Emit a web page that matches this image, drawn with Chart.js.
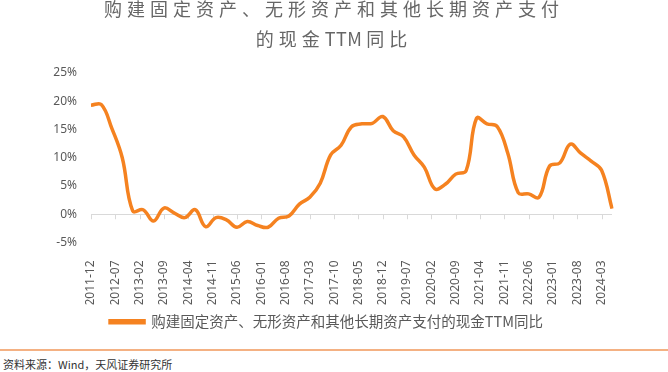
<!DOCTYPE html>
<html lang="zh-CN">
<head>
<meta charset="UTF-8">
<title>购建固定资产、无形资产和其他长期资产支付的现金TTM同比</title>
<script src="https://cdn.jsdelivr.net/npm/chart.js"></script>
<style>
  body { margin: 0; background: #fff; font-family: 'Noto Sans CJK SC', sans-serif; }
  #wrap { position: relative; width: 668px; height: 372px; overflow: hidden; }
  #title {
    position: absolute; top: -7px; left: 0; width: 668px;
    text-align: center; font-size: 18px; line-height: 30px;
    letter-spacing: 5px; color: #666;
  }
  #title .abbr { letter-spacing: 0.5px; margin-right: 4px; }
  #chartBox { position: absolute; left: 0; top: 0; width: 668px; height: 345px; }
  #rule { position: absolute; left: 0; top: 349px; width: 668px; height: 2px; background: #f4b183; }
  #source { position: absolute; left: 3px; top: 356px; font-size: 11px; line-height: 16px; color: #333; }
</style>
</head>
<body>
<div id="wrap">
  <div id="chartBox"><canvas id="chart"></canvas></div>
  <div id="title">购建固定资产、无形资产和其他长期资产支付<br>的现金<span class="abbr">TTM</span>同比</div>
  <div id="rule"></div>
  <div id="source">资料来源：Wind，天风证券研究所</div>
</div>
<script>
  // monthly category axis, 2011-12 .. 2024-06
  const startYear = 2011, startMonth = 12, monthCount = 151;
  const labelStep = 7;
  const seriesName = '购建固定资产、无形资产和其他长期资产支付的现金TTM同比';
  // values (%) at quarter ends: 2011-12, 2012-03, ... 2024-06
  const quarterValues = [
    19.3, 19.4, 15.2, 10.0, 0.6, 0.8, -1.2, 1.1, 0.2, -0.6,
    0.8, -2.2, -0.6, -1.0, -2.3, -1.3, -2.0, -2.3, -0.7, -0.3,
    1.8, 3.0, 5.5, 10.5, 12.2, 15.5, 16.0, 16.1, 17.3, 14.8,
    13.7, 10.5, 8.3, 4.5, 5.3, 7.1, 7.7, 17.0, 16.0, 15.5,
    10.8, 3.8, 3.6, 3.0, 8.5, 9.1, 12.4, 10.8, 9.4, 7.8,
    1.0
  ];
  const yTicks = { min: -5, max: 25, step: 5 };

  const months = [];
  for (let i = 0; i < monthCount; i++) {
    const m = startMonth - 1 + i;
    const y = startYear + Math.floor(m / 12);
    months.push(y + '-' + String(m % 12 + 1).padStart(2, '0'));
  }
  const monthly = months.map((_, i) => i % 3 === 0 ? quarterValues[i / 3] : null);

  const orange = '#f58220';
  const grey = '#595959';

  // small tick marks hanging from the 0% axis line
  const zeroTicks = {
    id: 'zeroTicks',
    beforeDatasetsDraw(chart) {
      const xs = chart.scales.x, ys = chart.scales.y;
      const y0 = ys.getPixelForValue(0);
      const ctx = chart.ctx;
      ctx.save();
      ctx.strokeStyle = '#d9d9d9';
      ctx.lineWidth = 1;
      ctx.beginPath();
      for (let i = 0; i < months.length; i += labelStep) {
        const x = Math.round(xs.getPixelForValue(i)) + 0.5;
        ctx.moveTo(x, y0);
        ctx.lineTo(x, y0 + 5);
      }
      ctx.stroke();
      ctx.restore();
    }
  };

  new Chart(document.getElementById('chart'), {
    type: 'line',
    data: {
      labels: months,
      datasets: [{
        label: seriesName,
        data: monthly,
        borderColor: orange,
        backgroundColor: orange,
        borderWidth: 3.5,
        pointRadius: 0,
        tension: 0.4,
        spanGaps: true
      }]
    },
    options: {
      responsive: true,
      maintainAspectRatio: false,
      animation: false,
      layout: { padding: { top: 73, left: 41, right: 56, bottom: 6 } },
      plugins: {
        title: { display: false },
        tooltip: { enabled: false },
        legend: {
          position: 'bottom',
          labels: {
            boxWidth: 34,
            boxHeight: 2,
            color: grey,
            padding: 10,
            font: { family: "'Noto Sans CJK SC', sans-serif", size: 14.5 }
          }
        }
      },
      scales: {
        x: {
          afterFit: s => { s.height = 62; },
          grid: { display: false },
          border: { display: false },
          ticks: {
            autoSkip: false,
            minRotation: 90,
            maxRotation: 90,
            padding: 10,
            color: grey,
            font: { family: "'Noto Sans', sans-serif", size: 12 },
            callback: (v, i) => i % labelStep === 0 ? months[i] : ''
          }
        },
        y: {
          min: yTicks.min,
          max: yTicks.max,
          afterFit: s => { s.width = 50; },
          grid: {
            drawTicks: false,
            color: c => c.tick && c.tick.value === 0 ? '#d9d9d9' : 'rgba(0,0,0,0)'
          },
          border: { display: false },
          ticks: {
            stepSize: yTicks.step,
            padding: 14,
            color: grey,
            font: { family: "'Noto Sans', sans-serif", size: 12 },
            callback: v => v + '%'
          }
        }
      }
    },
    plugins: [zeroTicks]
  });
</script>
</body>
</html>
